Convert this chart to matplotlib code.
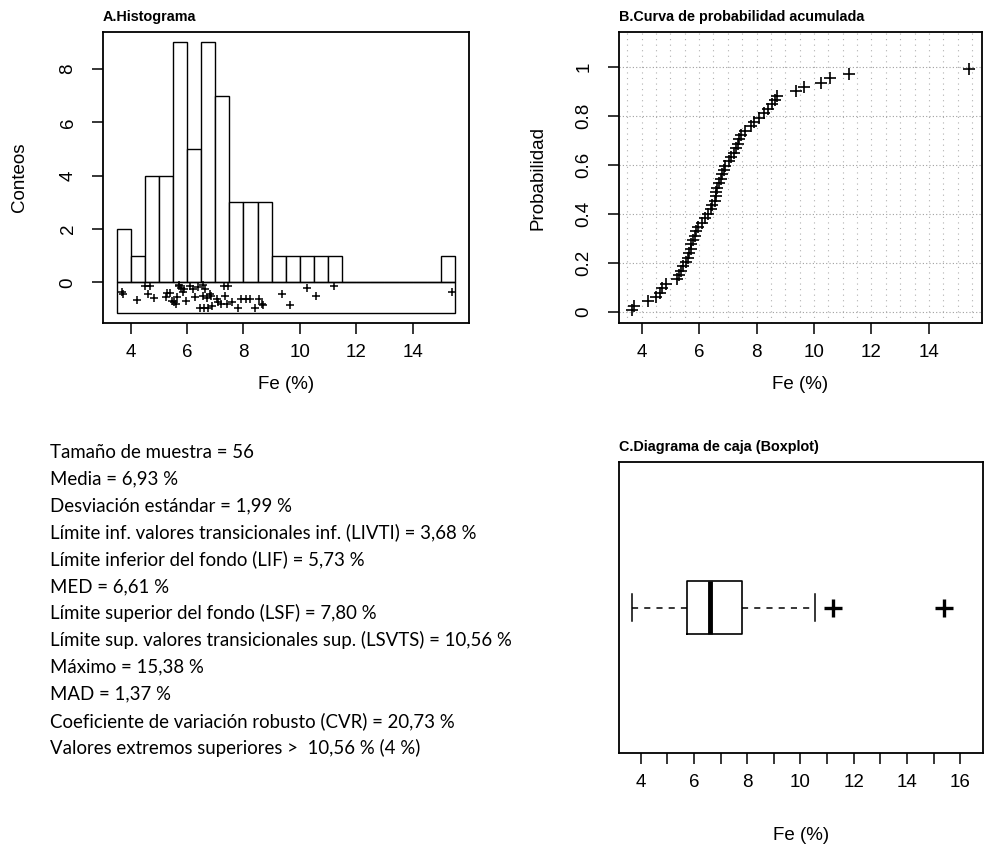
import numpy as np
import matplotlib
matplotlib.use("Agg")
import matplotlib.pyplot as plt
from matplotlib.patches import Rectangle

fe = [3.68, 3.72, 4.21, 4.51, 4.63, 4.70, 4.83, 5.24, 5.30, 5.38,
      5.45, 5.55, 5.60, 5.65, 5.70, 5.73, 5.78, 5.85, 5.90, 5.95,
      6.10, 6.20, 6.30, 6.40, 6.45, 6.55, 6.58, 6.60, 6.62, 6.70,
      6.75, 6.80, 6.85, 6.90, 7.05, 7.10, 7.20, 7.30, 7.35, 7.40,
      7.45, 7.60, 7.80, 7.90, 8.10, 8.25, 8.40, 8.55, 8.65, 8.70,
      9.37, 9.66, 10.25, 10.56, 11.22, 15.38]
# vertical position of each sample in the strip under the histogram
strip_y = [-0.34, -0.43, -0.66, -0.15, -0.45, -0.15, -0.60, -0.55, -0.40, -0.38,
           -0.70, -0.72, -0.80, -0.55, -0.10, -0.15, -0.20, -0.35, -0.25, -0.70,
           -0.12, -0.25, -0.55, -0.18, -0.95, -0.08, -0.50, -0.95, -0.25, -0.60,
           -0.95, -0.45, -0.50, -0.88, -0.62, -0.75, -0.80, -0.12, -0.50, -0.80,
           -0.12, -0.75, -0.95, -0.62, -0.62, -0.62, -0.95, -0.62, -0.80, -0.85,
           -0.42, -0.85, -0.19, -0.50, -0.13, -0.34]

hist_bins = np.arange(3.5, 16.0, 0.5)

# boxplot stats (from the summary)
med, lif, lsf = 6.61, 5.73, 7.80
livti, lsvts = 3.68, 10.56
extremos = [11.22, 15.38]

resumen = [
    "Tamaño de muestra = 56",
    "Media = 6,93 %",
    "Desviación estándar = 1,99 %",
    "Límite inf. valores transicionales inf. (LIVTI) = 3,68 %",
    "Límite inferior del fondo (LIF) = 5,73 %",
    "MED = 6,61 %",
    "Límite superior del fondo (LSF) = 7,80 %",
    "Límite sup. valores transicionales sup. (LSVTS) = 10,56 %",
    "Máximo = 15,38 %",
    "MAD = 1,37 %",
    "Coeficiente de variación robusto (CVR) = 20,73 %",
    "Valores extremos superiores >  10,56 % (4 %)",
]

plt.rcParams['font.family'] = ['Liberation Sans', 'DejaVu Sans']

W, H = 984, 846
fig = plt.figure(figsize=(W / 100, H / 100), dpi=100)


def px_axes(l, t, r, b):
    return fig.add_axes([l / W, 1 - b / H, (r - l) / W, (b - t) / H])


def style(ax):
    for s in ax.spines.values():
        s.set_linewidth(1.3)
    ax.tick_params(direction='out', length=8, width=1.1, labelsize=13.5, pad=7)
    ax.tick_params(axis='y', labelrotation=90, pad=11)
    for lab in ax.get_yticklabels():
        lab.set_va('center')


# A. Histogram
axA = px_axes(103, 32, 469, 323)
axA.hist(fe, bins=hist_bins, facecolor='white', edgecolor='black', linewidth=1.0)
axA.add_patch(Rectangle((3.5, -1.15), 12.0, 1.15, facecolor='none', edgecolor='black', linewidth=1.0))
axA.plot(fe, strip_y, '+', color='black', ms=6, mew=1.1)
axA.set_xlim(3.02, 16.0)
axA.set_ylim(-1.52, 9.39)
axA.set_xticks([4, 6, 8, 10, 12, 14])
axA.set_yticks([0, 2, 4, 6, 8])
axA.set_xlabel("Fe (%)", fontsize=13.5, labelpad=11)
axA.set_ylabel("Conteos", fontsize=13.5, labelpad=23)
axA.set_title("A.Histograma", loc='left', fontsize=10.4, fontweight='bold', pad=8)
style(axA)

# B. Cumulative probability
n = len(fe)
prob = (np.arange(1, n + 1) - 0.5) / n
axB = px_axes(619, 32, 982, 323)
for gx in hist_bins:
    axB.axvline(gx, color='#b0b0b0', lw=0.8, ls=(0, (1, 4)), zorder=0)
for gy in [0, 0.2, 0.4, 0.6, 0.8, 1.0]:
    axB.axhline(gy, color='#a0a0a0', lw=0.8, ls=(0, (1, 2)), zorder=0)
axB.plot(fe, prob, '+', color='black', ms=9, mew=1.2)
axB.set_xlim(3.21, 15.85)
axB.set_ylim(-0.044, 1.144)
axB.set_xticks([4, 6, 8, 10, 12, 14])
axB.set_yticks([0, 0.2, 0.4, 0.6, 0.8, 1.0])
axB.set_yticklabels(["0", "0.2", "0.4", "0.6", "0.8", "1"])
axB.set_xlabel("Fe (%)", fontsize=13.5, labelpad=11)
axB.set_ylabel("Probabilidad", fontsize=13.5, labelpad=21)
axB.set_title("B.Curva de probabilidad acumulada", loc='left', fontsize=10.4, fontweight='bold', pad=8)
style(axB)

# C. Boxplot
axC = px_axes(619, 462, 983, 753)
stats = [dict(med=med, q1=lif, q3=lsf, whislo=livti, whishi=lsvts, fliers=extremos)]
axC.bxp(stats, vert=False, positions=[1], widths=0.2, showfliers=True,
        boxprops=dict(color='black', lw=1.2),
        whiskerprops=dict(color='black', lw=1.1, ls=(0, (4, 4))),
        capprops=dict(color='black', lw=1.1),
        medianprops=dict(color='black', lw=3.5),
        flierprops=dict(marker='+', markeredgecolor='black', ms=13, mew=2.4))
axC.set_ylim(0.46, 1.54)
axC.set_xlim(3.19, 16.85)
axC.set_xticks(np.arange(4, 17, 1))
axC.set_xticklabels([str(v) if v % 2 == 0 else "" for v in range(4, 17)])
axC.set_yticks([])
axC.set_xlabel("Fe (%)", fontsize=13.5, labelpad=26)
axC.set_title("C.Diagrama de caja (Boxplot)", loc='left', fontsize=10.4, fontweight='bold', pad=8)
style(axC)

# summary text
for i, line in enumerate(resumen):
    fig.text(50 / W, 1 - (452 + i * 26.9) / H, line, fontsize=13.4, va='center', ha='left',
             family=['Lato', 'DejaVu Sans'])

fig.savefig("out.png", dpi=100)
